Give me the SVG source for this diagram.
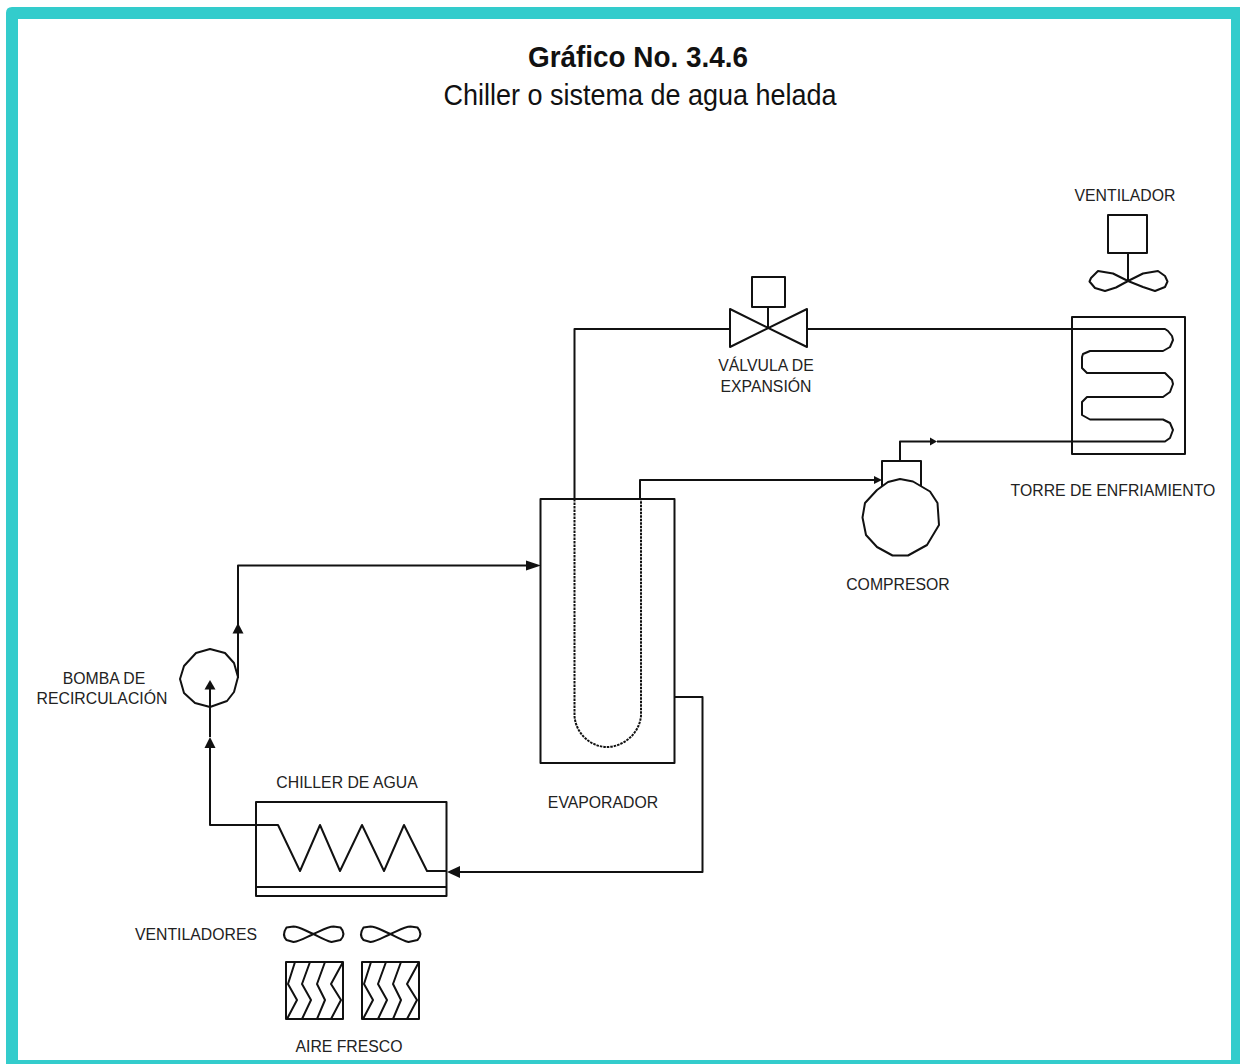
<svg xmlns="http://www.w3.org/2000/svg" width="1240" height="1064" viewBox="0 0 1240 1064">
<style>
.s{fill:none;stroke:#111;stroke-width:2;stroke-linejoin:round}
.f{fill:#fff;stroke:#111;stroke-width:2;stroke-linejoin:round}
.t{font-family:"Liberation Sans",Arial,sans-serif;font-size:15.800px;fill:#222;text-anchor:middle}
.h{font-family:"Liberation Sans",Arial,sans-serif;font-size:30px;fill:#111;text-anchor:middle}
</style>
<defs>
<path id="hfan" class="s" d="M0 0C-8 -3 -14 -7.500 -20 -7.500L-27 -6.500C-30 -2 -31 2 -27 6L-20 8C-13 7 -7 3 0 0C7 -3 14 -7.500 20 -7.500L27 -6.500C31 -2 31 2 27 6L18 8C12 6.500 6 3 0 0Z"/>
<g id="filter">
<rect class="s" x="0" y="0" width="57" height="57"/>
<path class="s" d="M9 0L2 22L11 38L1 57M24 0L16 22L25 38L16 57M39 0L31 22L39 38L31 57M57 0L45 22L55 38L45 57"/>
</g>
</defs>
<rect width="1240" height="1064" fill="#fff"/>
<path fill="#33cccc" fill-rule="evenodd" d="M12 7H1240V1064H6V13Q6 7 12 7ZM18 19V1060H1231V19Z"/>
<g id="title">
<text class="h" x="638" y="67" font-weight="700" textLength="220" lengthAdjust="spacingAndGlyphs">Gráfico No. 3.4.6</text>
<text class="h" x="640" y="104.500" textLength="393" lengthAdjust="spacingAndGlyphs">Chiller o sistema de agua helada</text>
</g>
<g id="connectors">
<path class="s" d="M807 329H1072"/>
<path class="s" d="M730 329H574.500V499"/>
<path class="s" d="M640 499V480H874"/>
<path class="s" d="M900 461V441.500H931"/>
<path class="s" d="M1072 441.500H937"/>
<path class="s" d="M674 697H702.500V872H460"/>
<path class="s" d="M210 748V825H256"/>
<path class="s" d="M210 737V689"/>
<path class="s" d="M238 678V565.500H527"/>
</g>
<g id="arrows">
<path d="M937 441.500L930 437.500V445.500Z" fill="#111"/>
<path d="M882 480L874 476V484Z" fill="#111"/>
<path d="M541 565.500L526 560.500V570.500Z" fill="#111"/>
<path d="M447 872L460 866V878Z" fill="#111"/>
<path d="M238 623L232.500 633.500H243.500Z" fill="#111"/>
<path d="M210 680L204.500 689.500H215.500Z" fill="#111"/>
<path d="M210 737L204.500 748H215.500Z" fill="#111"/>
</g>
<g id="valvula">
<rect class="s" x="752" y="277" width="33" height="30"/>
<path class="s" d="M768 307V328M730 309V347L807 309V347Z"/>
<text class="t" x="766" y="371">VÁLVULA DE</text>
<text class="t" x="766" y="392">EXPANSIÓN</text>
</g>
<g id="ventilador">
<text class="t" x="1125" y="201">VENTILADOR</text>
<rect class="s" x="1108" y="215" width="39" height="38"/>
<path class="s" d="M1128 253V281"/>
<path class="s" d="M1128 281L1113 273.500L1098 271L1091 278L1089.500 281.500L1095 288L1105 291L1116 287.500L1128 281L1143 273.500L1158 271L1165 276L1167.500 281.500L1165 287L1155 291L1143 287Z"/>
</g>
<g id="torre">
<rect class="s" x="1072" y="317" width="113" height="137"/>
<path class="s" d="M1072 329H1165L1168 331L1172 336L1173 340L1170 347L1163 351H1090L1083 354L1082 357V368L1087 373H1165L1172 380L1173 384L1170 392L1163 397H1087L1082 402V415L1090 419.500H1163L1170 423L1173 430L1170 438L1165 441.500H1072"/>
<text class="t" x="1113" y="496">TORRE DE ENFRIAMIENTO</text>
</g>
<g id="compresor">
<rect class="s" x="882" y="461" width="39" height="26"/>
<path class="f" d="M900 479L913 481.500L930 491.500L937.500 503L939 525L927 545L908 555.500H892.500L877 547L866 535L862.500 517.500L865 503L877 490L888 482Z"/>
<text class="t" x="898" y="590">COMPRESOR</text>
</g>
<g id="evaporador">
<rect class="s" x="540.500" y="499" width="134" height="264"/>
<path class="s" stroke-dasharray="2.500 1" d="M574.500 499V716C576 735 592 747 607 747C622 747 639 735 641 716V499"/>
<text class="t" x="603" y="808">EVAPORADOR</text>
</g>
<g id="bomba">
<path class="s" d="M210 649L225 653L234 663L238 677L234 692L227 701L210 707L195 703L184 693L180 679L184 666L196 653Z"/>
<text class="t" x="104" y="684">BOMBA DE</text>
<text class="t" x="102" y="704">RECIRCULACIÓN</text>
</g>
<g id="chiller">
<text class="t" x="347" y="788">CHILLER DE AGUA</text>
<rect class="s" x="256" y="802" width="190.500" height="94"/>
<path class="s" d="M256 887H446.500"/>
<path class="s" d="M256 825H278L300 871L320 825L340 871L362 825L384 871L404 825L427 871H447"/>
</g>
<g id="ventiladores">
<text class="t" x="196" y="940">VENTILADORES</text>
<use href="#hfan" x="313.500" y="934"/>
<use href="#hfan" x="390.500" y="934"/>
</g>
<g id="aire">
<use href="#filter" x="286" y="962"/>
<use href="#filter" x="362" y="962"/>
<text class="t" x="349" y="1052">AIRE FRESCO</text>
</g>
</svg>
